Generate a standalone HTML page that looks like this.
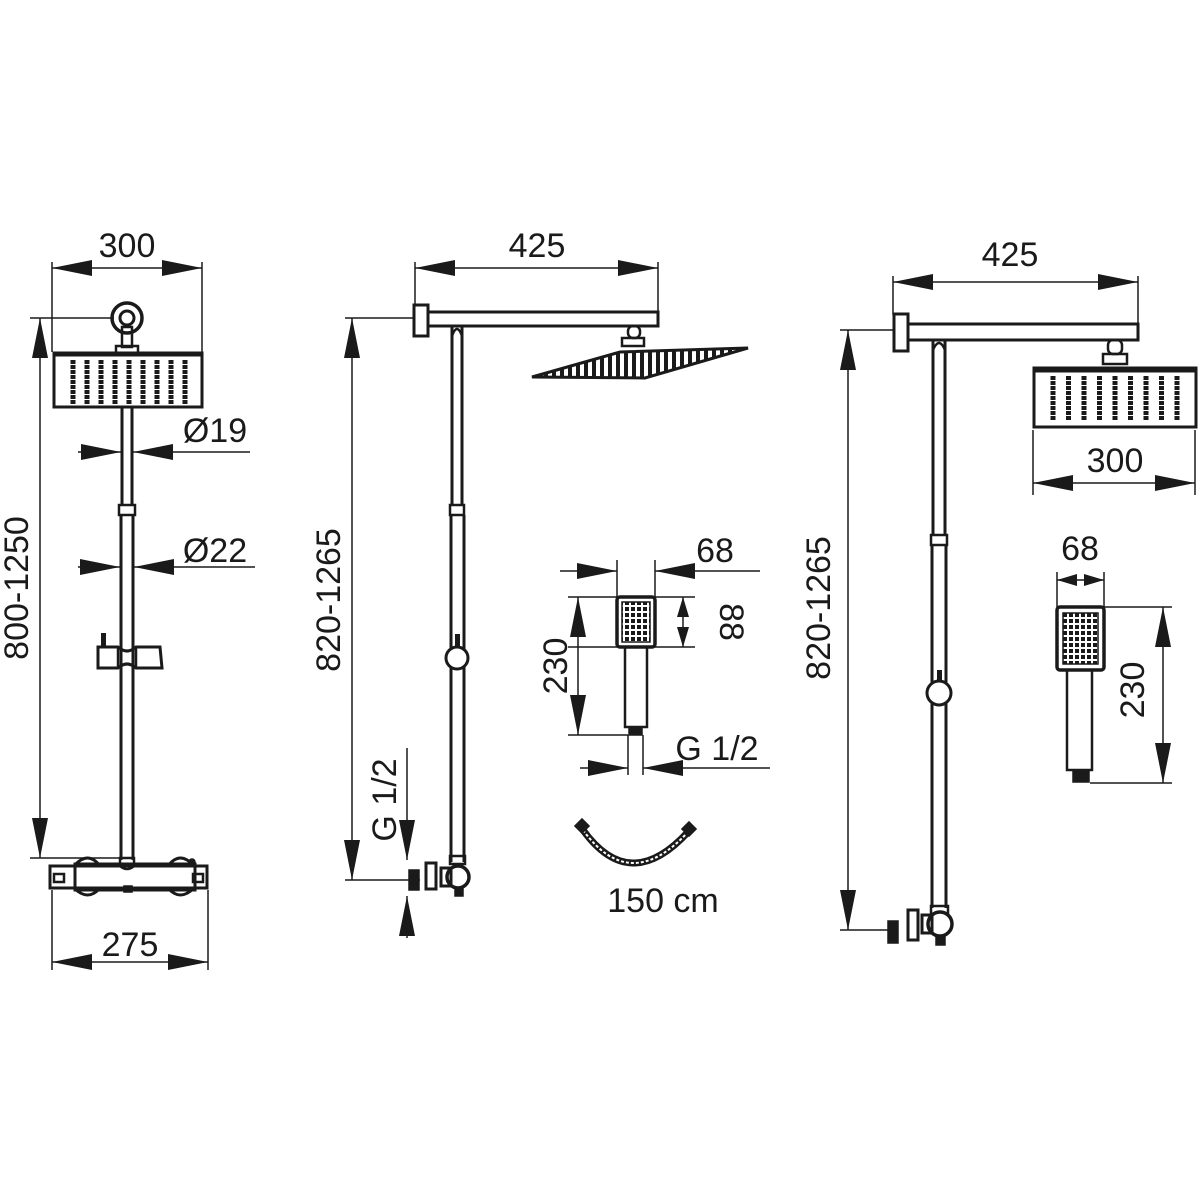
<!DOCTYPE html>
<html><head><meta charset="utf-8"><style>
html,body{margin:0;padding:0;background:#fff}
svg{display:block}
text{font-family:"Liberation Sans",sans-serif;fill:#1a1a1a}
</style></head><body>
<svg width="1200" height="1200" viewBox="0 0 1200 1200" xmlns="http://www.w3.org/2000/svg">
<defs>
<marker id="a" markerUnits="userSpaceOnUse" markerWidth="42" markerHeight="16" refX="40" refY="8" orient="auto-start-reverse"><path d="M0,0 L40,8 L0,16 Z" fill="#1a1a1a"/></marker>
<marker id="s" markerUnits="userSpaceOnUse" markerWidth="22" markerHeight="12" refX="20" refY="6" orient="auto-start-reverse"><path d="M0,0 L20,6 L0,12 Z" fill="#1a1a1a"/></marker>
<pattern id="st" width="8" height="8" patternUnits="userSpaceOnUse"><rect width="8" height="8" fill="#fff"/><rect width="4" height="8" fill="#1a1a1a"/></pattern>
<pattern id="gr" width="6" height="6" patternUnits="userSpaceOnUse"><rect width="6" height="6" fill="#fff"/><rect x="1" y="1" width="4" height="4" fill="#1a1a1a"/></pattern>
<g id="nz"><line x1="0" y1="0" x2="0" y2="44" stroke="#1a1a1a" stroke-width="5" stroke-dasharray="4 1"/></g>
</defs>
<g stroke="#1a1a1a" fill="none" stroke-width="1.5">
<!-- LEFT FIGURE -->
<line x1="52" y1="262" x2="52" y2="352"/><line x1="202" y1="262" x2="202" y2="352"/>
<line x1="52" y1="268" x2="202" y2="268" marker-start="url(#a)" marker-end="url(#a)"/>
<line x1="30" y1="318" x2="114" y2="318"/>
<line x1="40" y1="318" x2="40" y2="858" marker-start="url(#a)" marker-end="url(#a)"/>
<line x1="30" y1="858" x2="120" y2="858"/>
<circle cx="127" cy="318" r="15" stroke-width="3.5"/><circle cx="127" cy="318" r="7" stroke-width="3"/>
<rect x="122" y="327" width="10" height="20" stroke-width="2.5"/>
<rect x="116" y="346" width="22" height="7" stroke-width="2.5"/>
<rect x="54" y="353" width="148" height="54" stroke-width="3"/>
<line x1="53" y1="354" x2="203" y2="354" stroke-width="5"/>
<g transform="translate(73,360)"><use href="#nz"/><use href="#nz" x="14"/><use href="#nz" x="28"/><use href="#nz" x="42"/><use href="#nz" x="56"/><use href="#nz" x="70"/><use href="#nz" x="84"/><use href="#nz" x="98"/><use href="#nz" x="112"/></g>
<line x1="122" y1="408" x2="122" y2="505" stroke-width="3"/><line x1="132" y1="408" x2="132" y2="505" stroke-width="3"/>
<rect x="119" y="505" width="16" height="10" stroke-width="2.5"/>
<line x1="121" y1="515" x2="121" y2="860" stroke-width="3"/><line x1="133" y1="515" x2="133" y2="860" stroke-width="3"/>
<line x1="78" y1="452" x2="121" y2="452" marker-end="url(#a)"/><line x1="250" y1="452" x2="133" y2="452" marker-end="url(#a)"/>
<line x1="78" y1="567" x2="120" y2="567" marker-end="url(#a)"/><line x1="255" y1="567" x2="134" y2="567" marker-end="url(#a)"/>
<path d="M98,647 L118,647 Q127,655 136,647 L160,647 L162,668 L136,668 Q127,660 118,668 L98,668 Z" stroke-width="3"/>
<rect x="101" y="633" width="5" height="14" fill="#1a1a1a" stroke="none"/>
<line x1="118" y1="647" x2="118" y2="668" stroke-width="2.5"/><line x1="136" y1="647" x2="136" y2="668" stroke-width="2.5"/>
<path d="M120,858 L134,858 L134,866 Q127,872 120,866 Z" stroke-width="2.5"/>
<rect x="50" y="866" width="157" height="22" stroke-width="3"/>
<rect x="75" y="864" width="120" height="26" stroke-width="3"/>
<path d="M74,866 Q88,850 100,866 M168,866 Q180,850 194,866 M74,888 Q88,902 100,888 M168,888 Q180,902 194,888" stroke-width="3"/>
<rect x="54" y="874" width="10" height="8" stroke-width="2.5"/><rect x="193" y="874" width="10" height="8" stroke-width="2.5"/>
<rect x="124" y="886" width="8" height="6" fill="#1a1a1a"/>
<circle cx="192" cy="862" r="3" fill="#1a1a1a"/>
<line x1="52" y1="890" x2="52" y2="970"/><line x1="208" y1="890" x2="208" y2="970"/>
<line x1="52" y1="962" x2="208" y2="962" marker-start="url(#a)" marker-end="url(#a)"/>

<!-- MIDDLE FIGURE -->
<line x1="415" y1="262" x2="415" y2="305"/><line x1="658" y1="262" x2="658" y2="312"/>
<line x1="415" y1="268" x2="658" y2="268" marker-start="url(#a)" marker-end="url(#a)"/>
<rect x="414" y="305" width="14" height="31" stroke-width="3"/>
<rect x="428" y="312" width="230" height="14" stroke-width="3"/>
<line x1="345" y1="318" x2="413" y2="318"/>
<line x1="352" y1="318" x2="352" y2="880" marker-start="url(#a)" marker-end="url(#a)"/>
<line x1="345" y1="880" x2="420" y2="880"/>
<path d="M452,336 Q457,322 462,336" stroke-width="2.5"/>
<line x1="452" y1="326" x2="452" y2="505" stroke-width="3"/><line x1="462" y1="326" x2="462" y2="505" stroke-width="3"/>
<rect x="450" y="505" width="14" height="10" stroke-width="2.5"/>
<line x1="451" y1="515" x2="451" y2="862" stroke-width="3"/><line x1="464" y1="515" x2="464" y2="862" stroke-width="3"/>
<rect x="455" y="634" width="5" height="12" fill="#1a1a1a" stroke="none"/>
<circle cx="457" cy="658" r="11" stroke-width="3" fill="#fff"/>
<rect x="450" y="856" width="15" height="8" stroke-width="2.5"/>
<circle cx="458" cy="877" r="11" stroke-width="3.5" fill="#fff"/>
<rect x="441" y="868" width="10" height="18" stroke-width="3"/>
<rect x="426" y="863" width="10" height="26" stroke-width="3"/>
<rect x="409" y="870" width="10" height="20" fill="#1a1a1a"/>
<rect x="455" y="888" width="8" height="8" fill="#1a1a1a"/>
<line x1="407" y1="748" x2="407" y2="860" marker-end="url(#a)"/>
<line x1="407" y1="938" x2="407" y2="896" marker-end="url(#a)"/>
<rect x="628" y="326" width="12" height="12" rx="5" stroke-width="2.5"/>
<rect x="622" y="338" width="22" height="8" stroke-width="2.5"/>
<polygon points="532,377 620,352 748,348 645,378" fill="url(#st)" stroke-width="3"/>
<!-- hand shower middle -->
<line x1="617" y1="560" x2="617" y2="597"/><line x1="655" y1="560" x2="655" y2="597"/>
<line x1="560" y1="571" x2="617" y2="571" marker-end="url(#a)"/><line x1="760" y1="571" x2="655" y2="571" marker-end="url(#a)"/>
<line x1="568" y1="597" x2="695" y2="597"/><line x1="568" y1="647" x2="695" y2="647"/>
<line x1="683" y1="597" x2="683" y2="647" marker-start="url(#s)" marker-end="url(#s)"/>
<line x1="568" y1="735" x2="628" y2="735"/>
<line x1="578" y1="597" x2="578" y2="735" marker-start="url(#a)" marker-end="url(#a)"/>
<rect x="617" y="597" width="38" height="50" rx="3" stroke-width="3.5"/>
<rect x="622" y="602" width="28" height="40" fill="url(#gr)" stroke-width="1.5"/>
<rect x="625" y="647" width="22" height="80" stroke-width="2.5"/>
<rect x="629" y="727" width="13" height="8" fill="#1a1a1a"/>
<line x1="628" y1="735" x2="628" y2="775"/><line x1="643" y1="735" x2="643" y2="775"/>
<line x1="580" y1="768" x2="628" y2="768" marker-end="url(#a)"/><line x1="770" y1="768" x2="643" y2="768" marker-end="url(#a)"/>
<path d="M583,830 Q630,895 688,832" stroke-width="7"/>
<path d="M583,830 Q630,895 688,832" stroke="#fff" stroke-width="2" stroke-dasharray="3 2"/>
<rect x="577" y="821" width="10" height="10" fill="#1a1a1a" transform="rotate(45 582 826)"/>
<rect x="684" y="824" width="10" height="10" fill="#1a1a1a" transform="rotate(-45 689 829)"/>

<!-- RIGHT FIGURE -->
<line x1="893" y1="276" x2="893" y2="315"/><line x1="1138" y1="276" x2="1138" y2="324"/>
<line x1="893" y1="282" x2="1138" y2="282" marker-start="url(#a)" marker-end="url(#a)"/>
<rect x="894" y="314" width="14" height="37" stroke-width="3"/>
<rect x="908" y="324" width="230" height="16" stroke-width="3"/>
<line x1="840" y1="330" x2="893" y2="330"/>
<line x1="848" y1="330" x2="848" y2="930" marker-start="url(#a)" marker-end="url(#a)"/>
<line x1="840" y1="930" x2="895" y2="930"/>
<path d="M933,350 Q939,336 945,350" stroke-width="2.5"/>
<line x1="933" y1="340" x2="933" y2="535" stroke-width="3"/><line x1="945" y1="340" x2="945" y2="535" stroke-width="3"/>
<rect x="931" y="535" width="16" height="10" stroke-width="2.5"/>
<line x1="932" y1="545" x2="932" y2="908" stroke-width="3"/><line x1="946" y1="545" x2="946" y2="908" stroke-width="3"/>
<rect x="937" y="670" width="5" height="12" fill="#1a1a1a" stroke="none"/>
<circle cx="939" cy="693" r="12" stroke-width="3" fill="#fff"/>
<rect x="931" y="906" width="17" height="8" stroke-width="2.5"/>
<circle cx="940" cy="924" r="12" stroke-width="3.5" fill="#fff"/>
<rect x="922" y="915" width="10" height="18" stroke-width="3"/>
<rect x="908" y="910" width="10" height="30" stroke-width="3"/>
<rect x="888" y="921" width="10" height="22" fill="#1a1a1a"/>
<rect x="936" y="936" width="9" height="9" fill="#1a1a1a"/>
<rect x="1108" y="340" width="14" height="14" rx="5" stroke-width="2.5"/>
<rect x="1103" y="354" width="24" height="10" stroke-width="2.5"/>
<rect x="1034" y="368" width="162" height="59" stroke-width="3"/>
<line x1="1033" y1="370" x2="1197" y2="370" stroke-width="5"/>
<g transform="translate(1053,376)"><use href="#nz"/><use href="#nz" x="15.5"/><use href="#nz" x="31"/><use href="#nz" x="46.5"/><use href="#nz" x="62"/><use href="#nz" x="77.5"/><use href="#nz" x="93"/><use href="#nz" x="108.5"/><use href="#nz" x="124"/></g>
<line x1="1033" y1="430" x2="1033" y2="495"/><line x1="1195" y1="430" x2="1195" y2="495"/>
<line x1="1033" y1="483" x2="1195" y2="483" marker-start="url(#a)" marker-end="url(#a)"/>
<line x1="1057" y1="572" x2="1057" y2="607"/><line x1="1104" y1="572" x2="1104" y2="607"/>
<line x1="1057" y1="580" x2="1104" y2="580" marker-start="url(#s)" marker-end="url(#s)"/>
<line x1="1104" y1="607" x2="1172" y2="607"/><line x1="1090" y1="783" x2="1172" y2="783"/>
<line x1="1163" y1="607" x2="1163" y2="783" marker-start="url(#a)" marker-end="url(#a)"/>
<rect x="1057" y="607" width="47" height="63" rx="3" stroke-width="3.5"/>
<rect x="1063" y="613" width="35" height="51" fill="url(#gr)" stroke-width="1.5"/>
<rect x="1067" y="670" width="25" height="100" stroke-width="2.5"/>
<rect x="1073" y="770" width="16" height="12" fill="#1a1a1a"/>
</g>
<g font-size="34">
<text x="127" y="257" text-anchor="middle">300</text>
<text x="215" y="442" text-anchor="middle">Ø19</text>
<text x="215" y="562" text-anchor="middle">Ø22</text>
<text x="130" y="956" text-anchor="middle">275</text>
<text transform="translate(28,588) rotate(-90)" text-anchor="middle">800-1250</text>
<text x="537" y="257" text-anchor="middle">425</text>
<text transform="translate(340,600) rotate(-90)" text-anchor="middle">820-1265</text>
<text transform="translate(396,800) rotate(-90)" text-anchor="middle">G 1/2</text>
<text x="715" y="562" text-anchor="middle">68</text>
<text transform="translate(720,622) rotate(90)" text-anchor="middle">88</text>
<text transform="translate(567,666) rotate(-90)" text-anchor="middle">230</text>
<text x="717" y="760" text-anchor="middle">G 1/2</text>
<text x="663" y="912" text-anchor="middle">150 cm</text>
<text x="1010" y="266" text-anchor="middle">425</text>
<text transform="translate(830,608) rotate(-90)" text-anchor="middle">820-1265</text>
<text x="1115" y="472" text-anchor="middle">300</text>
<text x="1080" y="560" text-anchor="middle">68</text>
<text transform="translate(1144,690) rotate(-90)" text-anchor="middle">230</text>
</g>
</svg>
</body></html>
